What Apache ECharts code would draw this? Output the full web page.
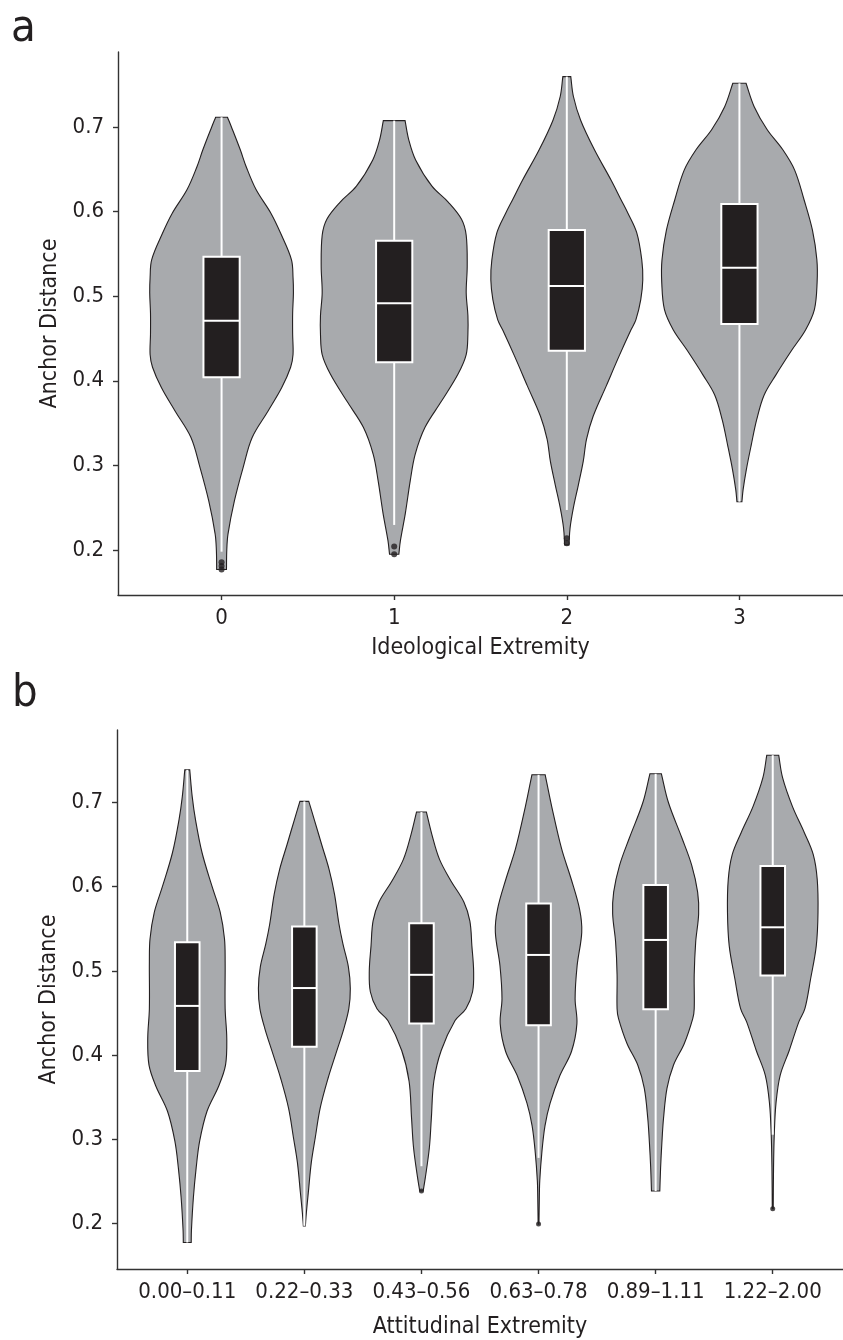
<!DOCTYPE html>
<html><head><meta charset="utf-8">
<script src="https://cdn.jsdelivr.net/npm/echarts@6/dist/echarts.min.js"></script>
<style>html,body{margin:0;padding:0;background:#fff}#c{width:843px;height:1340px}</style>
</head><body><div id="c"></div>
<script>
// ---------- DATA ----------
const catsA = ['0', '1', '2', '3'];
const catsB = ['0.00\u20130.11', '0.22\u20130.33', '0.43\u20130.56', '0.63\u20130.78', '0.89\u20131.11', '1.22\u20132.00'];

// violin density profiles: [anchor distance, relative density]
const vA0 = [[0.7115,0.076],[0.700,0.127],[0.673,0.241],[0.653,0.317],[0.626,0.444],[0.598,0.635],[0.574,0.762],[0.543,0.90],[0.522,0.92],[0.504,0.925],[0.480,0.915],[0.455,0.915],[0.431,0.92],[0.416,0.889],[0.392,0.775],[0.364,0.597],[0.333,0.394],[0.298,0.279],[0.258,0.165],[0.219,0.083],[0.200,0.067],[0.177,0.063]];
const vA1 = [[0.7075,0.14],[0.685,0.187],[0.661,0.276],[0.630,0.486],[0.611,0.698],[0.591,0.867],[0.572,0.927],[0.535,0.94],[0.504,0.927],[0.477,0.949],[0.455,0.949],[0.431,0.927],[0.408,0.822],[0.376,0.61],[0.345,0.397],[0.313,0.27],[0.282,0.207],[0.243,0.143],[0.211,0.08],[0.195,0.06]];
const vA2 = [[0.7595,0.051],[0.736,0.085],[0.708,0.178],[0.673,0.356],[0.637,0.571],[0.614,0.698],[0.598,0.787],[0.575,0.90],[0.543,0.965],[0.519,0.978],[0.496,0.952],[0.472,0.889],[0.460,0.825],[0.430,0.677],[0.394,0.508],[0.358,0.339],[0.331,0.254],[0.305,0.212],[0.277,0.149],[0.250,0.085],[0.226,0.042],[0.206,0.028]];
const vA3 = [[0.7516,0.085],[0.724,0.19],[0.697,0.356],[0.673,0.559],[0.649,0.711],[0.614,0.832],[0.578,0.94],[0.543,0.997],[0.516,1.0],[0.484,0.965],[0.460,0.851],[0.436,0.673],[0.407,0.47],[0.383,0.317],[0.354,0.222],[0.324,0.152],[0.295,0.089],[0.271,0.047],[0.257,0.032]];

const vB0 = [[0.7386,0.047],[0.7068,0.094],[0.6796,0.156],[0.6402,0.281],[0.6005,0.469],[0.5697,0.625],[0.5378,0.707],[0.5106,0.719],[0.4551,0.719],[0.4197,0.75],[0.388,0.726],[0.363,0.595],[0.3333,0.375],[0.2979,0.235],[0.2661,0.169],[0.2307,0.116],[0.1917,0.079],[0.1776,0.075]];
const vB1 = [[0.7012,0.084],[0.6796,0.188],[0.650,0.328],[0.6205,0.469],[0.591,0.572],[0.5556,0.657],[0.532,0.732],[0.505,0.835],[0.479,0.872],[0.4551,0.844],[0.4315,0.75],[0.402,0.60],[0.3725,0.45],[0.337,0.30],[0.3016,0.206],[0.272,0.131],[0.2366,0.075],[0.213,0.038],[0.1973,0.019]];
const vB2 = [[0.6885,0.094],[0.662,0.197],[0.6323,0.343],[0.6064,0.563],[0.5815,0.807],[0.559,0.919],[0.5297,0.957],[0.500,0.99],[0.4752,0.97],[0.4551,0.844],[0.441,0.638],[0.4055,0.375],[0.369,0.235],[0.3253,0.188],[0.29,0.15],[0.2551,0.075],[0.2386,0.032]];
const vB3 = [[0.7327,0.126],[0.695,0.25],[0.645,0.437],[0.609,0.619],[0.573,0.779],[0.546,0.82],[0.506,0.732],[0.4669,0.694],[0.4374,0.728],[0.4043,0.625],[0.376,0.407],[0.343,0.22],[0.316,0.122],[0.284,0.062],[0.251,0.023],[0.231,0.015],[0.1994,0.008]];
const vB4 = [[0.7339,0.109],[0.6995,0.244],[0.658,0.497],[0.6253,0.685],[0.5934,0.797],[0.5674,0.816],[0.5343,0.76],[0.4953,0.732],[0.4551,0.732],[0.4433,0.704],[0.4138,0.544],[0.388,0.338],[0.3607,0.216],[0.3253,0.15],[0.2957,0.118],[0.2662,0.094],[0.2386,0.079]];
const vB5 = [[0.756,0.113],[0.729,0.188],[0.695,0.375],[0.664,0.60],[0.638,0.769],[0.6088,0.844],[0.5697,0.859],[0.5297,0.826],[0.4906,0.719],[0.4551,0.61],[0.4398,0.497],[0.4055,0.313],[0.376,0.141],[0.343,0.062],[0.3075,0.03],[0.2661,0.015],[0.2177,0.009]];

// box stats: [lower whisker, Q1, median, Q3, upper whisker]
const boxA = [[0.198,0.4041,0.471,0.5467,0.7115],[0.2296,0.4219,0.4916,0.5656,0.7075],[0.2473,0.4356,0.5121,0.5783,0.7595],[0.2571,0.4671,0.5337,0.609,0.7516]];
const boxB = [[0.1776,0.3811,0.4584,0.5339,0.7386],[0.1973,0.41,0.4796,0.5528,0.7012],[0.2681,0.4374,0.4953,0.5564,0.6885],[0.278,0.4354,0.5189,0.58,0.7327],[0.2386,0.4543,0.5367,0.602,0.7339],[0.3055,0.4945,0.5517,0.6244,0.756]];
// outliers: [category index, value]
const outA = [[0,0.1855],[0,0.181],[0,0.177],[1,0.204],[1,0.195],[2,0.2138],[2,0.208]];
const outB = [[2,0.2386],[3,0.1994],[5,0.2177]];

const yTicks = [0.2, 0.3, 0.4, 0.5, 0.6, 0.7];

// ---------- STYLE ----------
const FONT = "'Liberation Sans Narrow','DejaVu Sans Condensed','Liberation Sans',sans-serif";
const INK = '#231f20';
const VIOLIN = '#a8aaad';
const HALF = 0.45;   // max violin half-width in category units
const BOXW = 0.21;   // box width in category units

const chart = echarts.init(document.getElementById('c'), null, {renderer: 'canvas'});

function violinSeries(profiles, axisIdx) {
  return {
    type: 'custom', xAxisIndex: axisIdx, yAxisIndex: axisIdx, z: 2, silent: true,
    data: profiles.map((p, i) => [i]),
    renderItem: function (params, api) {
      const c = api.value(0);
      const prof = profiles[params.dataIndex];
      const n = prof.length;
      const pts = [];
      // right side top -> bottom (corner points doubled to keep flat ends sharp)
      for (let k = 0; k < n; k++) {
        const p = api.coord([c + prof[k][1] * HALF, prof[k][0]]);
        pts.push(p);
        if (k === 0 || k === n - 1) pts.push(p.slice());
      }
      // left side bottom -> top
      for (let k = n - 1; k >= 0; k--) {
        const p = api.coord([c - prof[k][1] * HALF, prof[k][0]]);
        pts.push(p);
        if (k === 0 || k === n - 1) pts.push(p.slice());
      }
      return {type: 'polygon', shape: {points: pts, smooth: 0.35},
        style: {fill: VIOLIN, stroke: INK, lineWidth: 1.1}};
    }
  };
}
function boxSeries(boxes, axisIdx) {
  return {
    type: 'custom', xAxisIndex: axisIdx, yAxisIndex: axisIdx, z: 3, silent: true,
    data: boxes.map((b, i) => [i, b[0], b[1], b[2], b[3], b[4]]),
    renderItem: function (params, api) {
      const c = api.value(0);
      const lo = api.coord([c, api.value(1)]), q1 = api.coord([c, api.value(2)]);
      const md = api.coord([c, api.value(3)]), q3 = api.coord([c, api.value(4)]);
      const hi = api.coord([c, api.value(5)]);
      const w = api.size([BOXW, 0])[0];
      const ls = {stroke: '#ffffff', lineWidth: 2};
      return {type: 'group', children: [
        {type: 'line', shape: {x1: hi[0], y1: hi[1], x2: q3[0], y2: q3[1]}, style: ls},
        {type: 'line', shape: {x1: q1[0], y1: q1[1], x2: lo[0], y2: lo[1]}, style: ls},
        {type: 'rect', shape: {x: q3[0] - w / 2, y: q3[1], width: w, height: q1[1] - q3[1]},
          style: {fill: INK, stroke: '#ffffff', lineWidth: 2}},
        {type: 'line', shape: {x1: md[0] - w / 2, y1: md[1], x2: md[0] + w / 2, y2: md[1]}, style: ls}
      ]};
    }
  };
}
function xAxis(cats, grid, name, gap) {
  const idx = cats.map((c, i) => i);
  return {
    type: 'value', gridIndex: grid, min: -0.6, max: cats.length - 0.4,
    name: name, nameLocation: 'middle', nameGap: gap,
    nameTextStyle: {fontFamily: FONT, fontSize: 23, color: INK},
    splitLine: {show: false},
    axisLine: {show: true, onZero: false, lineStyle: {color: '#333333', width: 1.4}},
    axisTick: {show: true, length: 5, customValues: idx, lineStyle: {color: '#333333', width: 1.4}},
    axisLabel: {customValues: idx, margin: 12, fontFamily: FONT, fontSize: 22, color: INK,
      formatter: v => cats[Math.round(v)]}
  };
}
function yAxis(grid, min, max) {
  return {
    type: 'value', gridIndex: grid, min: min, max: max,
    name: 'Anchor Distance', nameLocation: 'middle', nameGap: 56,
    nameTextStyle: {fontFamily: FONT, fontSize: 23, color: INK},
    splitLine: {show: false},
    axisLine: {show: true, onZero: false, lineStyle: {color: '#333333', width: 1.4}},
    axisTick: {show: true, length: 5, customValues: yTicks, lineStyle: {color: '#333333', width: 1.4}},
    axisLabel: {customValues: yTicks, margin: 14, fontFamily: FONT, fontSize: 22, color: INK,
      formatter: v => v.toFixed(1)}
  };
}

chart.setOption({
  animation: false,
  backgroundColor: '#ffffff',
  title: [
    {text: 'a', left: 6, top: 2, textStyle: {fontFamily: FONT, fontSize: 45, fontWeight: 'normal', color: INK}},
    {text: 'b', left: 7, top: 667, textStyle: {fontFamily: FONT, fontSize: 45, fontWeight: 'normal', color: INK}}
  ],
  grid: [
    {left: 118, top: 52, width: 735, height: 543},
    {left: 117, top: 730, width: 735, height: 542}
  ],
  xAxis: [xAxis(catsA, 0, 'Ideological Extremity', 42), xAxis(catsB, 1, 'Attitudinal Extremity', 47)],
  yAxis: [yAxis(0, 0.1468, 0.7886), yAxis(1, 0.1461, 0.7859)],
  series: [
    violinSeries([vA0, vA1, vA2, vA3], 0),
    boxSeries(boxA, 0),
    {type: 'scatter', xAxisIndex: 0, yAxisIndex: 0, z: 4, data: outA, symbolSize: 6, itemStyle: {color: INK}, silent: true},
    violinSeries([vB0, vB1, vB2, vB3, vB4, vB5], 1),
    boxSeries(boxB, 1),
    {type: 'scatter', xAxisIndex: 1, yAxisIndex: 1, z: 4, data: outB, symbolSize: 5, itemStyle: {color: INK}, silent: true}
  ]
});
</script></body></html>
